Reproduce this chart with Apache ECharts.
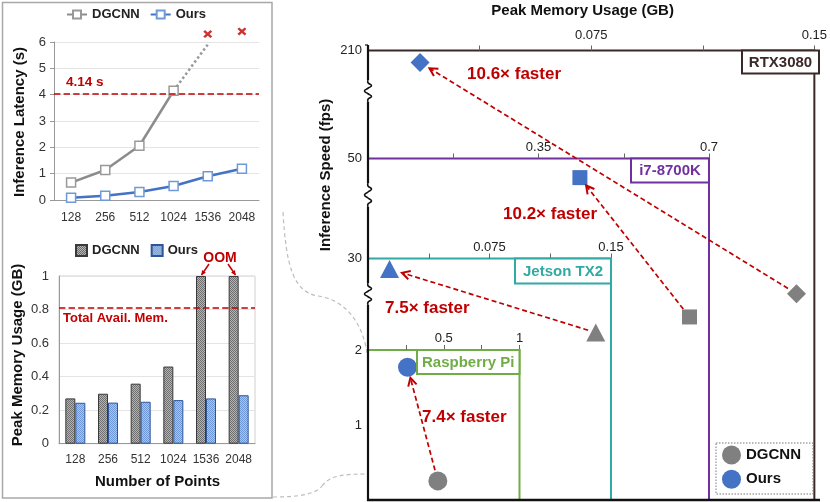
<!DOCTYPE html>
<html><head><meta charset="utf-8">
<script src="https://cdn.jsdelivr.net/npm/echarts@6/dist/echarts.min.js"></script>
<style>html,body{margin:0;padding:0;background:#fff}#c{width:830px;height:502px}</style>
</head><body><div id="c"></div>
<script>
// ---------------- data ----------------
const points = ['128', '256', '512', '1024', '1536', '2048'];
const dgcnnLatency = [0.66, 1.14, 2.06, 4.15, null, null];
const dgcnnLatencyTrend = [null, null, null, 4.15, 5.9, null];
const oomMarks = ['-', '-', '-', '-', 6.3, 6.4];
const oursLatency = [0.09, 0.16, 0.30, 0.53, 0.90, 1.19];
const latencyBudget = 4.04;
const dgcnnMemory = [0.27, 0.298, 0.358, 0.46, 1.0, 1.0];
const oursMemory = [0.244, 0.245, 0.25, 0.26, 0.27, 0.289];
const memoryBudget = 0.81;

const devices = ['RTX3080', 'i7-8700K', 'Jetson TX2', 'Raspberry Pi'];
const deviceMemMax = [0.15, 0.7, 0.15, 1];
const deviceMemStep = [0.0375, 0.175, 0.0375, 0.25];
const deviceMemLabels = [[0.075, 0.15], [0.35, 0.7], [0.075, 0.15], [0.5, 1]];
const deviceFpsMax = [210, 50, 30, 2];
const deviceFpsStep = [210, 50, 30, 1];
const dgcnnPoints = [[0.144, 96.4], [0.660, 26.8], [0.1406, 20.8], [0.461, 0.255]];
const oursPoints = [[0.0175, 204.4], [0.435, 47.2], [0.0133, 28.7], [0.261, 1.77]];
const speedups = ['10.6× faster', '10.2× faster', '7.5× faster', '7.4× faster'];

// ---------------- styling / layout ----------------
const FONT = 'Liberation Sans, Arial, Helvetica, sans-serif';
const RED = '#c00000';
const GRAY = '#808080';
const BLUE = '#4472c4';
const deviceColors = ['#3d2828', '#7030a0', '#30aaa3', '#70ad47'];
const deviceRightEdge = [819, 709, 611, 519.5];
const deviceTop = [50.5, 158.5, 258.5, 350];
const deviceXLabelMargin = [9, 5, 5, 5];
const deviceSymbols = ['diamond', 'rect', 'triangle', 'circle'];
const deviceSymbolSize = [19, 15, [19, 18], 19];
const deviceBox = [[742, 50.5, 77, 23], [631, 158.5, 78, 24], [515, 258.5, 96, 25], [417, 350, 102.5, 24]];
const speedupPos = [[467, 74], [503, 214], [385, 308], [422, 417]];
const arrowShorten = [[10, 11], [10, 10], [8, 13], [11, 11]];
const PLOT_LEFT = 368, PLOT_BOTTOM = 500;

function pattern(light, dark) {
  const c = document.createElement('canvas');
  c.width = 2; c.height = 2;
  const g = c.getContext('2d');
  g.fillStyle = light; g.fillRect(0, 0, 2, 2);
  g.fillStyle = dark; g.fillRect(0, 0, 1, 1); g.fillRect(1, 1, 1, 1);
  return { image: c, repeat: 'repeat' };
}
const trim = n => n.trim();
const fmtNum = v => String(+(+v).toFixed(4));

const grids = [
  { left: 54, top: 42, width: 205, height: 158 },
  { left: 59, top: 276, width: 196, height: 167.7, show: true, borderColor: '#d0d0d0', borderWidth: 1, backgroundColor: 'transparent' }
];
const xAxes = [
  { type: 'category', gridIndex: 0, data: points, boundaryGap: true,
    axisLine: { lineStyle: { color: '#999' } },
    axisTick: { alignWithLabel: true, length: 4, lineStyle: { color: '#999' } },
    axisLabel: { interval: 0, fontSize: 12, color: '#333', margin: 12, fontFamily: FONT } },
  { type: 'category', gridIndex: 1, data: points,
    axisLine: { lineStyle: { color: '#999' } }, axisTick: { show: false },
    axisLabel: { interval: 0, fontSize: 12, color: '#333', margin: 10, fontFamily: FONT } }
];
const yAxes = [
  { type: 'value', gridIndex: 0, min: 0, max: 6, interval: 1,
    axisLine: { show: true, lineStyle: { color: '#999' } },
    axisTick: { show: true, length: 4, lineStyle: { color: '#999' } },
    splitLine: { lineStyle: { color: '#e4e4e4' } },
    axisLabel: { fontSize: 13, color: '#333', margin: 8, fontFamily: FONT } },
  { type: 'value', gridIndex: 1, min: 0, max: 1, interval: 0.2,
    axisLine: { show: true, lineStyle: { color: '#999' } }, axisTick: { show: false },
    splitLine: { lineStyle: { color: '#e4e4e4' } },
    axisLabel: { fontSize: 13, color: '#333', margin: 10, fontFamily: FONT, formatter: fmtNum } }
];
devices.forEach((d, i) => {
  grids.push({ left: PLOT_LEFT, top: deviceTop[i], width: deviceRightEdge[i] - PLOT_LEFT,
    height: PLOT_BOTTOM - deviceTop[i], show: true, borderColor: deviceColors[i], borderWidth: 2,
    backgroundColor: 'transparent' });
  xAxes.push({ type: 'value', gridIndex: i + 2, position: 'top', min: 0, max: deviceMemMax[i],
    interval: deviceMemStep[i], axisLine: { show: false, onZero: false }, splitLine: { show: false },
    axisTick: { show: true, length: 5, lineStyle: { color: '#666' } },
    axisLabel: { fontSize: 13, color: '#222', margin: deviceXLabelMargin[i], fontFamily: FONT,
      formatter: v => deviceMemLabels[i].includes(+(+v).toFixed(4)) ? fmtNum(v) : '' } });
  yAxes.push({ type: 'value', gridIndex: i + 2, min: 0, max: deviceFpsMax[i], interval: deviceFpsStep[i],
    axisLine: { show: false, onZero: false }, axisTick: { show: false }, splitLine: { show: false },
    axisLabel: { showMinLabel: false, fontSize: 13, color: '#222', margin: 6, fontFamily: FONT } });
});

const series = [
  { name: 'DGCNN', type: 'line', xAxisIndex: 0, yAxisIndex: 0, data: dgcnnLatency, z: 4,
    lineStyle: { color: '#8c8c8c', width: 2.5 }, symbol: 'rect', symbolSize: 9,
    itemStyle: { color: '#fff', borderColor: '#999', borderWidth: 1.5 },
    markLine: { silent: true, symbol: 'none', label: { show: false },
      lineStyle: { color: RED, type: 'dashed', width: 1.6 }, data: [{ yAxis: latencyBudget }] } },
  { name: 'trend', type: 'line', xAxisIndex: 0, yAxisIndex: 0, data: dgcnnLatencyTrend, z: 3,
    lineStyle: { color: '#999', width: 2.5, type: 'dotted' }, symbol: 'none' },
  { name: 'Ours', type: 'line', xAxisIndex: 0, yAxisIndex: 0, data: oursLatency, z: 4,
    lineStyle: { color: BLUE, width: 2.5 }, symbol: 'rect', symbolSize: 9,
    itemStyle: { color: '#fff', borderColor: '#6f9ad8', borderWidth: 1.5 } },
  { name: 'oom', type: 'scatter', xAxisIndex: 0, yAxisIndex: 0, data: oomMarks, clip: false,
    symbol: 'path://M0,2L2,0L5,3L8,0L10,2L7,5L10,8L8,10L5,7L2,10L0,8L3,5Z', symbolSize: [9, 8],
    itemStyle: { color: RED } },
  { name: 'DGCNN ', type: 'bar', xAxisIndex: 1, yAxisIndex: 1, data: dgcnnMemory, barWidth: 10, barGap: '0%',
    itemStyle: { color: pattern('#b4b4b4', '#6e6e6e'), borderColor: '#3a3a3a', borderWidth: 1 },
    markLine: { silent: true, symbol: 'none', label: { show: false },
      lineStyle: { color: RED, type: 'dashed', width: 1.6 }, data: [{ yAxis: memoryBudget }] } },
  { name: 'Ours ', type: 'bar', xAxisIndex: 1, yAxisIndex: 1, data: oursMemory, barWidth: 10,
    itemStyle: { color: pattern('#a9c6ee', '#6d97d6'), borderColor: '#2f5597', borderWidth: 1 } }
];
devices.forEach((d, i) => {
  series.push({ name: 'DGCNN  ', type: 'scatter', xAxisIndex: i + 2, yAxisIndex: i + 2, data: [dgcnnPoints[i]],
    symbol: deviceSymbols[i], symbolSize: deviceSymbolSize[i], itemStyle: { color: GRAY, opacity: 1 }, z: 5 });
  series.push({ name: 'Ours  ', type: 'scatter', xAxisIndex: i + 2, yAxisIndex: i + 2, data: [oursPoints[i]],
    symbol: deviceSymbols[i], symbolSize: deviceSymbolSize[i], itemStyle: { color: BLUE, opacity: 1 }, z: 5 });
});

const legends = [
  { data: ['DGCNN', 'Ours'], left: 66, top: 8, padding: 0, itemWidth: 20, itemHeight: 10, itemGap: 10,
    formatter: trim, textStyle: { fontSize: 13, fontWeight: 'bold', color: '#222', fontFamily: FONT } },
  { data: ['DGCNN ', 'Ours '], left: 75, top: 244, padding: 0, icon: 'rect', itemWidth: 11, itemHeight: 11, itemGap: 11,
    formatter: trim, textStyle: { fontSize: 13, fontWeight: 'bold', color: '#222', fontFamily: FONT } },
  { data: [{ name: 'DGCNN  ', icon: 'circle' }, { name: 'Ours  ', icon: 'circle' }], orient: 'vertical',
    left: 722, top: 445.5, padding: 0, itemWidth: 19, itemHeight: 19, itemGap: 5.3, formatter: trim,
    textStyle: { fontSize: 15, fontWeight: 'bold', color: '#111', fontFamily: FONT } }
];

const chart = echarts.init(document.getElementById('c'), null, { renderer: 'canvas' });
chart.setOption({ animation: false, backgroundColor: '#fff', grid: grids, xAxis: xAxes, yAxis: yAxes,
  legend: legends, series: series });

// ---------------- annotations ----------------
function txt(x, y, text, o) {
  o = o || {};
  return { type: 'text', x: x, y: y, z: 120, rotation: o.rot || 0,
    style: { text: text, fontFamily: FONT, fontSize: o.size || 15, fontWeight: o.weight || 'bold',
      fill: o.color || '#111', align: o.align || 'center', verticalAlign: 'middle' } };
}
function line(x1, y1, x2, y2, stroke, w, z, dash) {
  return { type: 'line', z: z || 110, shape: { x1, y1, x2, y2 },
    style: { stroke, lineWidth: w, lineDash: dash || null } };
}
function head(tip, ux, uy, len, stroke, filled) {
  const a = 0.5, pts = [];
  [a, -a].forEach(t => {
    const bx = -ux, by = -uy;
    pts.push([tip[0] + (bx * Math.cos(t) - by * Math.sin(t)) * len, tip[1] + (bx * Math.sin(t) + by * Math.cos(t)) * len]);
  });
  if (filled) return { type: 'polygon', z: 112, shape: { points: [pts[0], tip, pts[1]] }, style: { fill: stroke } };
  return { type: 'polyline', z: 112, shape: { points: [pts[0], tip, pts[1]] }, style: { stroke, lineWidth: 2, fill: null } };
}
function arrow(a, b, sa, sb, opts) {
  const dx = b[0] - a[0], dy = b[1] - a[1], L = Math.hypot(dx, dy), ux = dx / L, uy = dy / L;
  const s = [a[0] + ux * sa, a[1] + uy * sa], e = [b[0] - ux * sb, b[1] - uy * sb];
  return [line(s[0], s[1], e[0], e[1], RED, opts.w, 111, opts.dash), head(e, ux, uy, opts.head, RED, opts.filled)];
}

const g = [];
// left panel frame
g.push({ type: 'rect', z: 100, shape: { x: 2.5, y: 2.5, width: 269.5, height: 495.5 }, style: { fill: null, stroke: '#a8a8a8', lineWidth: 1.5 } });
g.push(txt(20, 122, 'Inference Latency (s)', { rot: Math.PI / 2, size: 15 }));
g.push(txt(18, 355, 'Peak Memory Usage (GB)', { rot: Math.PI / 2, size: 15 }));
g.push(txt(157.5, 481.5, 'Number of Points', { size: 15 }));
g.push(txt(66, 82, '4.14 s', { align: 'left', size: 13.5, color: RED }));
g.push(txt(63, 318, 'Total Avail. Mem.', { align: 'left', size: 13, color: RED }));
g.push(txt(220, 258.5, 'OOM', { size: 14, color: RED }));
g.push(...arrow([209, 264], [201.5, 275], 0, 0, { w: 1.5, head: 5, filled: true }));
g.push(...arrow([228, 264], [235.5, 275], 0, 0, { w: 1.5, head: 5, filled: true }));

// connectors (gray dashed)
const cStyle = { stroke: '#bdbdbd', lineWidth: 1.2, lineDash: [4, 3], fill: null };
g.push({ type: 'bezierCurve', z: 100, shape: { x1: 283, y1: 212, cpx1: 286, cpy1: 265, cpx2: 293, cpy2: 292, x2: 318, y2: 296 }, style: cStyle });
g.push({ type: 'bezierCurve', z: 100, shape: { x1: 318, y1: 296, cpx1: 345, cpy1: 300, cpx2: 364, cpy2: 322, x2: 368, y2: 360 }, style: cStyle });
g.push({ type: 'bezierCurve', z: 100, shape: { x1: 273, y1: 497, cpx1: 300, cpy1: 497, cpx2: 316, cpy2: 494, x2: 322, y2: 486 }, style: cStyle });
g.push({ type: 'bezierCurve', z: 100, shape: { x1: 322, y1: 486, cpx1: 330, cpy1: 475, cpx2: 345, cpy2: 474, x2: 368, y2: 474 }, style: cStyle });

// right plot titles
g.push(txt(582.6, 11, 'Peak Memory Usage (GB)', { size: 15 }));
g.push(txt(326, 175, 'Inference Speed (fps)', { rot: Math.PI / 2, size: 15 }));

// broken left axis
const breaks = [[80, 102], [183, 207], [283, 305]];
let prev = 45;
breaks.forEach(([b0, b1]) => {
  g.push({ type: 'rect', z: 105, shape: { x: 363, y: b0, width: 10, height: b1 - b0 }, style: { fill: '#fff' } });
  g.push(line(PLOT_LEFT, prev, PLOT_LEFT, b0, '#111', 2.2, 110));
  const h = b1 - b0, pts = [];
  const seq = [0, 0, 3.5, 0, -3.5, 0, 3.5, 0, 0];
  seq.forEach((dx, k) => pts.push([PLOT_LEFT + dx, b0 + h * k / (seq.length - 1)]));
  g.push({ type: 'polyline', z: 110, shape: { points: pts, smooth: 0.5 }, style: { stroke: '#111', lineWidth: 1.6, fill: null } });
  prev = b1;
});
g.push(line(PLOT_LEFT, prev, PLOT_LEFT, PLOT_BOTTOM + 1, '#111', 2.2, 110));
g.push(line(PLOT_LEFT, 45, PLOT_LEFT - 3, 45, '#111', 1.2, 110));
g.push(line(PLOT_LEFT - 1, PLOT_BOTTOM, deviceRightEdge[0] + 1, PLOT_BOTTOM, '#111', 2.4, 110));

// device labels
devices.forEach((d, i) => {
  const [bx, by, bw, bh] = deviceBox[i];
  g.push({ type: 'rect', z: 115, shape: { x: bx, y: by, width: bw, height: bh }, style: { fill: '#fff', stroke: deviceColors[i], lineWidth: 2 } });
  g.push(txt(bx + bw / 2, by + bh / 2 + 0.5, d, { size: 15, color: deviceColors[i] }));
  g.push(txt(speedupPos[i][0], speedupPos[i][1], speedups[i], { align: 'left', size: 17, color: RED }));
  const pA = chart.convertToPixel({ xAxisIndex: i + 2, yAxisIndex: i + 2 }, dgcnnPoints[i]);
  const pB = chart.convertToPixel({ xAxisIndex: i + 2, yAxisIndex: i + 2 }, oursPoints[i]);
  g.push(...arrow(pA, pB, arrowShorten[i][0], arrowShorten[i][1], { w: 1.7, head: 9, dash: [5, 3] }));
});

// legend dotted box
g.push({ type: 'rect', z: 100, shape: { x: 716, y: 443, width: 97, height: 51 }, style: { fill: null, stroke: '#777', lineWidth: 1, lineDash: [1.5, 1.5] } });

chart.setOption({ graphic: g });
</script></body></html>
